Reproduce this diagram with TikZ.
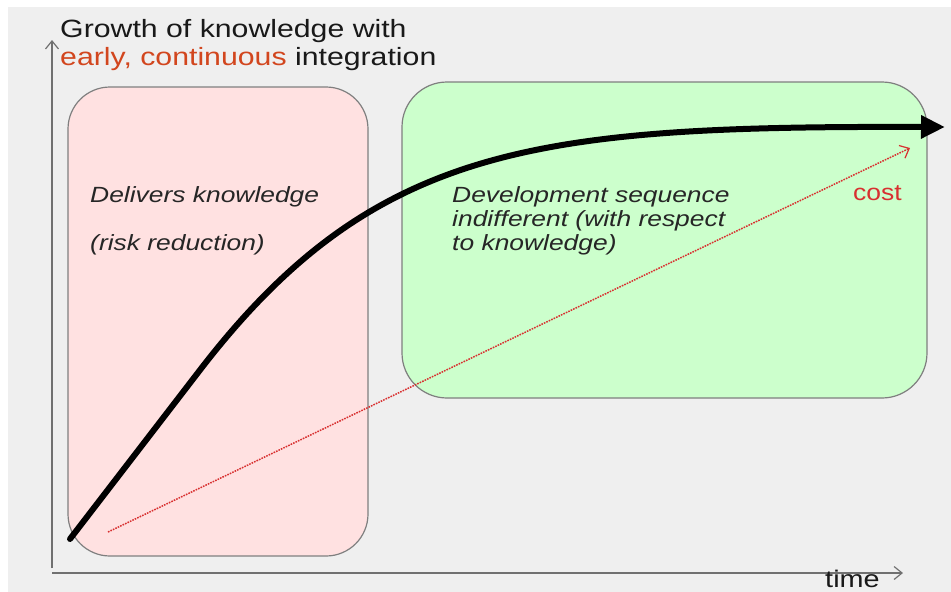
\documentclass[tikz,border=0pt]{standalone}
\usepackage{fontspec}
\setmainfont{Liberation Sans}
\usetikzlibrary{arrows.meta}
\definecolor{panelgray}{HTML}{EFEFEF}
\definecolor{axisgray}{HTML}{707070}
\definecolor{boxedge}{HTML}{7F7F7F}
\definecolor{riskfill}{HTML}{FFE1E1}
\definecolor{indiffill}{HTML}{CCFFCC}
\definecolor{titleorange}{HTML}{D2461E}
\definecolor{costred}{HTML}{D83030}
\definecolor{textdark}{HTML}{262626}
\tikzset{
  axisline/.style={draw=axisgray, line width=1.4pt, -{Straight Barb[length=8pt,width=13pt,line width=1.2pt]}},
  phasebox/.style={draw=boxedge, line width=1.2pt},
  titletext/.style={anchor=base west, inner sep=0pt, xscale=1.21, font=\fontsize{25}{28}\selectfont, text=black!90},
  boxtext/.style={anchor=base west, inner sep=0pt, xscale=1.2, font=\fontsize{22}{24}\selectfont\itshape, text=textdark},
  knowcurve/.style={line width=6pt, black, line cap=round, line join=round, -{Triangle[length=24pt,width=22pt]}},
  costline/.style={costred, line width=1.5pt, dash pattern=on 1.6pt off 1.1pt, -{Straight Barb[length=8pt,width=14pt,line width=1.2pt]}}
}
\begin{document}
\begin{tikzpicture}[x=1pt,y=-1pt]
\useasboundingbox (0,0) rectangle (951,592);
% slide background
\fill[panelgray] (8,7) rectangle (951,592);

% phase panels
\filldraw[phasebox, fill=riskfill, rounded corners=42pt] (68,87) rectangle (368,556);
\filldraw[phasebox, fill=indiffill, rounded corners=45pt] (402,82) rectangle (927,398);

% axes
\coordinate (yfoot) at (52,568);
\coordinate (ytip) at (52,40);
\coordinate (xfoot) at (52,573);
\coordinate (xtip) at (903,573);
\draw[axisline] (yfoot) -- (ytip);
\draw[axisline] (xfoot) -- (xtip);

% title
\node[titletext] (title1) at (60,37) {Growth of knowledge with};
\node[titletext] (title2) at (60,65) {\textcolor{titleorange}{early, continuous} integration};

% panel texts
\node[boxtext] (risk1) at (90,202) {Delivers knowledge};
\node[boxtext] (risk2) at (90,250) {(risk reduction)};
\node[boxtext] (dev1) at (452,202) {Development sequence};
\node[boxtext] (dev2) at (452,226) {indifferent (with respect};
\node[boxtext] (dev3) at (452,250) {to knowledge)};

% cost line
\coordinate (cstart) at (108,532);
\coordinate (cend) at (910,148);
\draw[costline] (cstart) -- (cend);
\node[anchor=base west, inner sep=0pt, xscale=1.15, font=\fontsize{23}{26}\selectfont, text=costred] (cost) at (853,200) {cost};

% knowledge curve: steady early growth, then flattening out
\coordinate (kstart) at (70,539);
\coordinate (kknee) at (200,370);
\coordinate (kend) at (945,127);
\draw[knowcurve] (kstart) -- (kknee) .. controls (375,142.5) and (540,126) .. (kend);

% time label
\node[anchor=base west, inner sep=0pt, xscale=1.2, font=\fontsize{24}{26}\selectfont, text=black!90] (time) at (825,587) {time};
\end{tikzpicture}
\end{document}
